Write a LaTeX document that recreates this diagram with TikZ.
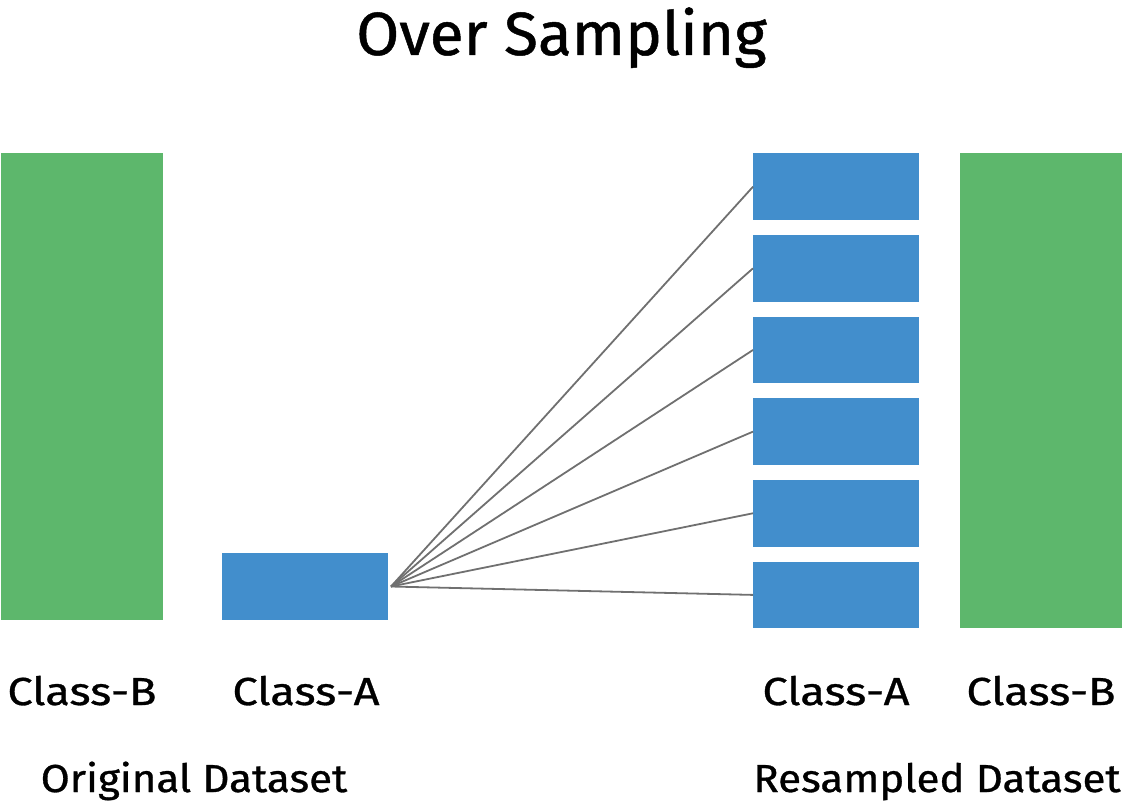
\documentclass[tikz,border=0pt]{standalone}
\usepackage{fontspec}
\setmainfont{Fira Sans}
\newfontfamily\labelfont{Fira Sans}[FakeStretch=1.16, FakeBold=0.8]
\newfontfamily\setfont{Fira Sans}[FakeStretch=1.08, FakeBold=0.8]
\newfontfamily\titlefont{Fira Sans}[FakeStretch=1.02, FakeBold=0.8]
\usetikzlibrary{positioning}
\definecolor{barblue}{RGB}{66,142,204}
\definecolor{bargreen}{RGB}{93,183,108}
\definecolor{linkgray}{RGB}{112,112,112}
\tikzset{
  bar/.style={inner sep=0pt, outer sep=0pt, minimum width=166pt, minimum height=66.7pt, fill=barblue},
  tallbar/.style={inner sep=0pt, outer sep=0pt, minimum width=162pt, fill=bargreen},
  caption/.style={inner sep=0pt, anchor=base, font=\labelfont\fontsize{39}{42}\selectfont},
  setcaption/.style={caption, font=\setfont\fontsize{39}{42}\selectfont},
  link/.style={draw=linkgray, line width=1.8pt},
}
\begin{document}
\begin{tikzpicture}[x=1pt,y=-1pt]
  \useasboundingbox (0,0) rectangle (1123,808);
  \node[inner sep=0pt, anchor=base, font=\titlefont\fontsize{61}{64}\selectfont] (title) at (561.5,55) {Over Sampling};
  % original dataset
  \node[tallbar, minimum height=467pt] (origB) at (82,386.5) {};
  \node[bar] (origA) at (305,586.5) {};
  \coordinate (fan) at ([xshift=3pt]origA.east);
  % resampled dataset
  \foreach \i in {1,...,6}
    \node[bar] (resA\i) at (836,{186.7+81.64*(\i-1)}) {};
  \node[tallbar, minimum height=475pt] (resB) at (1041,390.8) {};
  \foreach \i in {1,...,6}
    \draw[link] (fan) -- (resA\i.west);
  % labels
  \node[caption] (labOrigB) at (82,705) {Class-B};
  \node[caption] (labOrigA) at (306,705) {Class-A};
  \node[caption] (labResA) at (836,705) {Class-A};
  \node[caption] (labResB) at (1041,705) {Class-B};
  \node[setcaption] (orig) at (194,792) {Original Dataset};
  \node[setcaption] (res) at (937,792) {Resampled Dataset};
\end{tikzpicture}
\end{document}
